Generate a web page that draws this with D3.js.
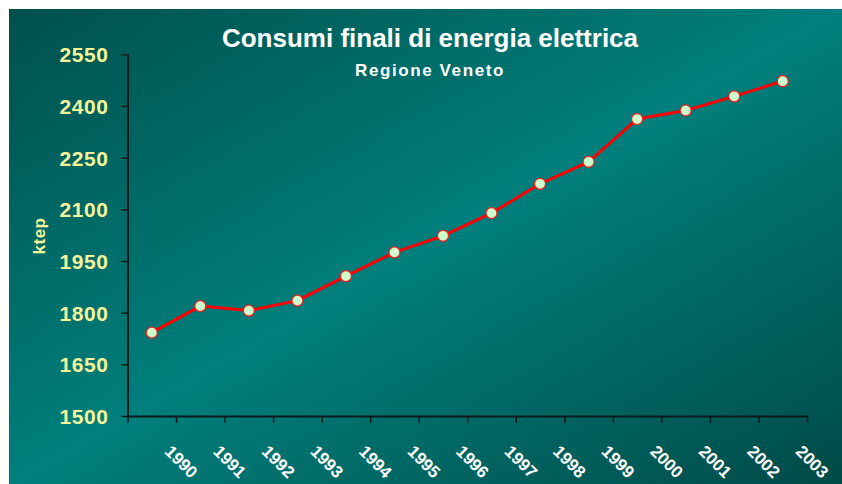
<!DOCTYPE html>
<html>
<head>
<meta charset="utf-8">
<script src="https://cdn.jsdelivr.net/npm/d3@7"></script>
<style>
  html, body { margin: 0; padding: 0; background: #ffffff; }
  svg { display: block; }
  text { font-family: "Liberation Sans", Arial, sans-serif; font-weight: bold; }
</style>
</head>
<body>
<svg id="chart" width="842" height="484"></svg>
<script>
// Annual final electricity consumption, Veneto region (ktep)
const years = ["1990", "1991", "1992", "1993", "1994", "1995", "1996",
               "1997", "1998", "1999", "2000", "2001", "2002", "2003"];
const consumi = [1742, 1819, 1806, 1835, 1906, 1975, 2023,
                 2089, 2174, 2238, 2362, 2387, 2428, 2472];
const yTicks = [1500, 1650, 1800, 1950, 2100, 2250, 2400, 2550];
const titolo = "Consumi finali di energia elettrica";
const sottotitolo = "Regione Veneto";
const unita = "ktep";

const svg = d3.select("#chart");
const W = 842, H = 484;

// Background panel with a diagonal teal gradient
const defs = svg.append("defs");
const grad = defs.append("linearGradient")
  .attr("id", "sfondo")
  .attr("x1", 0).attr("y1", 0).attr("x2", 1).attr("y2", 1);
grad.append("stop").attr("offset", "0%").attr("stop-color", "#00504c");
grad.append("stop").attr("offset", "50%").attr("stop-color", "#007f7c");
grad.append("stop").attr("offset", "100%").attr("stop-color", "#004a47");

svg.append("rect")
  .attr("x", 9).attr("y", 9)
  .attr("width", W - 9).attr("height", H - 9)
  .attr("fill", "url(#sfondo)");

// Plot area
const plotLeft = 127.5, plotRight = 807, plotTop = 54.3, plotBottom = 416;

const x = d3.scaleBand().domain(years).range([plotLeft, plotRight]).padding(0);
const xEdges = d3.scaleLinear().domain([0, years.length]).range([plotLeft, plotRight]);
const y = d3.scaleLinear().domain([1500, 2550]).range([plotBottom, plotTop]);

// Y axis
const yAxis = svg.append("g")
  .attr("transform", `translate(${plotLeft},0)`)
  .call(d3.axisLeft(y).tickValues(yTicks).tickSize(6).tickSizeOuter(0).tickFormat(d3.format("d")));
yAxis.select(".domain").attr("stroke", "#0d1a1a").attr("stroke-width", 2);
yAxis.selectAll(".tick line").attr("stroke", "#0d1a1a").attr("stroke-width", 1.5);
yAxis.selectAll(".tick text")
  .attr("x", -19)
  .attr("fill", "#f4f49a")
  .style("font-size", "21px")
  .style("letter-spacing", "0.6px")
  .attr("dy", "0.36em");

// X axis: ticks on category boundaries
const xAxis = svg.append("g")
  .attr("transform", `translate(0,${plotBottom})`)
  .call(d3.axisBottom(xEdges).tickValues(d3.range(years.length + 1)).tickSize(7).tickSizeOuter(0).tickFormat(""));
xAxis.select(".domain").attr("stroke", "#0d1a1a").attr("stroke-width", 2);
xAxis.selectAll(".tick line").attr("stroke", "#0d1a1a").attr("stroke-width", 1.5);

// Rotated year labels
svg.append("g").selectAll("text")
  .data(years)
  .join("text")
  .attr("transform", d => `translate(${x(d) + x.bandwidth() / 2 + 12},452.5) rotate(45)`)
  .attr("fill", "#ffffff")
  .style("font-size", "17px")
  .text(d => d);

// Y axis unit label
svg.append("text")
  .attr("transform", "translate(45,236) rotate(-90)")
  .attr("text-anchor", "middle")
  .attr("fill", "#f4f49a")
  .style("font-size", "17px")
  .style("letter-spacing", "0.5px")
  .text(unita);

// Titles
svg.append("text")
  .attr("x", 430).attr("y", 47)
  .attr("text-anchor", "middle")
  .attr("fill", "#ffffff")
  .style("font-size", "26px")
  .text(titolo);

svg.append("text")
  .attr("x", 430).attr("y", 76)
  .attr("text-anchor", "middle")
  .attr("fill", "#ffffff")
  .style("font-size", "17px")
  .style("letter-spacing", "1.6px")
  .text(sottotitolo);

// Data line and markers
const cx = (d, i) => x(years[i]) + x.bandwidth() / 2;
const line = d3.line().x(cx).y(d => y(d));

svg.append("path")
  .datum(consumi)
  .attr("d", line)
  .attr("fill", "none")
  .attr("stroke", "#ff0000")
  .attr("stroke-width", 3)
  .attr("stroke-linejoin", "round");

svg.append("g").selectAll("circle")
  .data(consumi)
  .join("circle")
  .attr("cx", cx)
  .attr("cy", d => y(d))
  .attr("r", 5.5)
  .attr("fill", "#ccffcc")
  .attr("stroke", "#ff1a1a")
  .attr("stroke-width", 1.2);
</script>
</body>
</html>
